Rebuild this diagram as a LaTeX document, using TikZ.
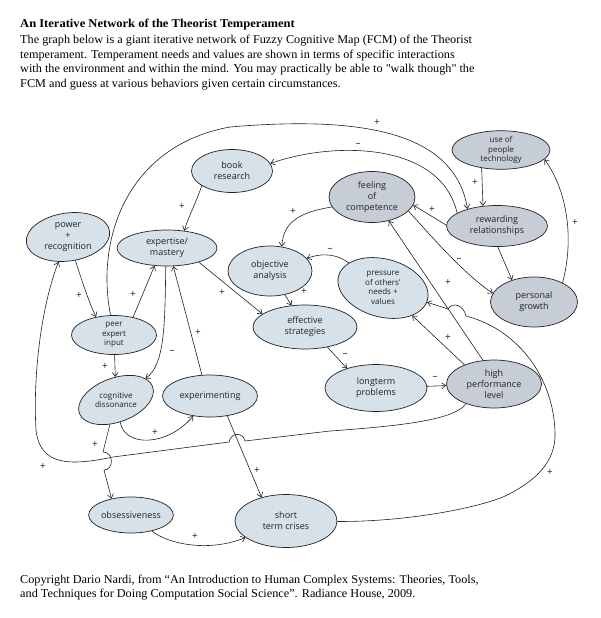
\documentclass[tikz,border=0pt]{standalone}
\usepackage{fontspec}
\setmainfont[FakeStretch=1.02]{Liberation Serif}
\newfontfamily\ttlfont[FakeStretch=1.045]{Liberation Serif}
\newfontfamily\hand{Open Sans}
\usetikzlibrary{shapes.geometric,arrows.meta}
\definecolor{nodeblue}{HTML}{D6E1E9}
\definecolor{nodegrey}{HTML}{C6CDD6}
\definecolor{ink}{HTML}{222222}
\begin{document}
\begin{tikzpicture}[x=1pt,y=-1pt,
  fcm/.style={ellipse, draw=ink, line width=0.7pt, fill=nodeblue, inner sep=0pt,
    align=center, text=ink, font=\hand\fontsize{9}{10.8}\selectfont},
  fcmtext/.style={inner sep=0pt, align=center, text=ink, font=\hand\fontsize{9}{10.8}\selectfont},
  greyfill/.style={fill=nodegrey},
  smalltext/.style={font=\hand\fontsize{8}{9.6}\selectfont},
  arr/.style={-{Straight Barb[length=4pt,width=6pt]}, line width=0.6pt, draw=ink},
  sgn/.style={inner sep=0pt, text=ink, font=\hand\fontsize{10}{10}\selectfont},
  txt/.style={anchor=base west, inner sep=0pt, font=\fontsize{12}{14}\selectfont},
  ttl/.style={anchor=base west, inner sep=0pt, font=\ttlfont\bfseries\fontsize{12}{14}\selectfont}]
\useasboundingbox (0,0) rectangle (600,618);
\fill[white] (0,0) rectangle (600,618);

% header text
\node[ttl] (title) at (20,28) {An Iterative Network of the Theorist Temperament};
\node[txt] (t1) at (20,44) {The graph below is a giant iterative network of Fuzzy Cognitive Map (FCM) of the Theorist};
\node[txt] (t2) at (20,58.5) {temperament. Temperament needs and values are shown in terms of specific interactions};
\node[txt] (t3) at (20,73) {with the environment and within the mind. You may practically be able to \textquotedbl walk though\textquotedbl{} the};
\node[txt] (t4) at (20,87.5) {FCM and guess at various behaviors given certain circumstances.};

% footer text
\node[txt] (f1) at (20,583) {Copyright Dario Nardi, from “An Introduction to Human Complex Systems: Theories, Tools,};
\node[txt] (f2) at (20,597) {and Techniques for Doing Computation Social Science”. Radiance House, 2009.};

% concept nodes
\node[fcm, minimum width=84pt, minimum height=48pt, rotate=8] (pow) at (68,237) {};
\node[fcmtext] (powt) at (pow.center) {power\\+\\recognition};
\node[fcm, minimum width=81pt, minimum height=43pt] (book) at (232,171) {book\\research};
\node[fcm, minimum width=100pt, minimum height=36pt] (exp) at (167,248) {expertise/\\mastery};
\node[fcm, minimum width=84pt, minimum height=50pt] (obj) at (270,271) {objective\\analysis};
\node[fcm, minimum width=104pt, minimum height=44pt] (eff) at (305,327) {effective\\strategies};
\node[fcm, greyfill, minimum width=86pt, minimum height=51pt] (feel) at (372,197) {feeling\\of\\competence};
\node[fcm, greyfill, smalltext, minimum width=98pt, minimum height=38pt] (use) at (501,150) {use of\\people\\technology};
\node[fcm, greyfill, minimum width=101pt, minimum height=41pt] (rew) at (497,226) {rewarding\\relationships};
\node[fcm, greyfill, minimum width=87pt, minimum height=50pt] (pg) at (534,302) {personal\\growth};
\node[fcm, minimum width=92pt, minimum height=58pt, rotate=-15] (press) at (383,288) {};
\node[fcmtext, smalltext] (presst) at (press.center) {pressure\\of others'\\needs +\\values};
\node[fcm, greyfill, minimum width=95pt, minimum height=48pt] (hp) at (494,384) {high\\performance\\level};
\node[fcm, minimum width=102pt, minimum height=47pt] (lt) at (376,388) {longterm\\problems};
\node[fcm, smalltext, minimum width=85pt, minimum height=39pt] (peer) at (114,335) {peer\\expert\\input};
\node[fcm, minimum width=78pt, minimum height=44pt, rotate=20] (cog) at (116,400) {};
\node[fcmtext, smalltext] (cogt) at (cog.center) {cognitive\\dissonance};
\node[fcm, minimum width=95pt, minimum height=42pt] (expm) at (210,396) {experimenting};
\node[fcm, minimum width=82pt, minimum height=36pt] (obs) at (131,515) {obsessiveness};
\node[fcm, minimum width=102pt, minimum height=53pt] (stc) at (286,521) {short\\term crises};

% connectors
\draw[arr] (book.206) .. controls (195,205) and (188,218) .. (exp.45);
\draw[arr] (peer.100) .. controls (95,235) and (130,145) .. (230,127) .. controls (370,115) and (455,135) .. (rew.150);
\draw[arr] (rew.162) .. controls (440,140) and (330,142) .. (book.11);
\draw[arr] (feel.194) .. controls (300,212) and (283,222) .. (obj.64);
\draw[arr] (use.223) -- (rew.125);
\draw[arr] (rew.179) -- (feel.-11);
\draw[arr] (rew.272) -- (pg.135);
\draw[arr] (pg.34) .. controls (574,240) and (568,192) .. (use.-12);
\draw[arr] (feel.-21) .. controls (430,235) and (465,275) .. (pg.168);
\draw[arr] (hp.115) -- (feel.-55);
\draw[arr] (hp.147) -- (press);
\draw[arr] (lt) -- (hp);
\draw[arr] (eff.-42) -- (lt.146);
\draw[arr] (obj) -- (eff);
\draw[arr] (press) .. controls (338,255) and (325,252) .. (obj);
\draw[arr] (exp.-24) -- (eff.163);
\draw[arr] (peer.43) -- (exp.235);
\draw[arr] (expm.111) -- (exp.-71);
\draw[arr] (exp.266) .. controls (165,330) and (164,365) .. (cog);
\draw[arr] (pow) .. controls (80,275) and (88,300) .. (peer.135);
\draw[arr] (peer) -- (cog);
\draw[arr] (cog) .. controls (125,448) and (168,446) .. (expm);
\draw[arr] (cog) -- (103,452) .. controls (114,452) and (114,470) .. (104,470) -- (obs.140);
\draw[arr] (expm.-49) -- (stc.136);
\draw[arr] (obs) .. controls (170,545) and (210,552) .. (stc);
\draw[arr] (stc) .. controls (400,522) and (470,510) .. (503,497)
  .. controls (535,482) and (556,462) .. (555,433)
  .. controls (554,380) and (520,330) .. (466,316)
  .. controls (463,304) and (452,302) .. (448,309) -- (press);
\draw[arr] (hp.215) .. controls (455,420) and (400,426) .. (330,431) -- (245,441)
  .. controls (243,432) and (231,432) .. (229,442) -- (113,457)
  .. controls (70,466) and (40,466) .. (36,430)
  .. controls (33,380) and (40,310) .. (pow);

% signs
\node[sgn] (s1) at (182,207) {+};
\node[sgn] (s2) at (377,123) {+};
\node[sgn] (s3) at (358,145) {–};
\node[sgn] (s4) at (293,212) {+};
\node[sgn] (s5) at (475,183) {+};
\node[sgn] (s6) at (432,210) {+};
\node[sgn] (s7) at (459,260) {–};
\node[sgn] (s8) at (575,223) {+};
\node[sgn] (s9) at (79,296) {+};
\node[sgn] (s10) at (133,295) {+};
\node[sgn] (s11) at (222,293) {+};
\node[sgn] (s12) at (304,292) {+};
\node[sgn] (s13) at (330,250) {–};
\node[sgn] (s14) at (198,333) {+};
\node[sgn] (s15) at (172,352) {–};
\node[sgn] (s16) at (448,283) {+};
\node[sgn] (s17) at (448,338) {+};
\node[sgn] (s18) at (345,355) {–};
\node[sgn] (s19) at (435,378) {–};
\node[sgn] (s20) at (105,367) {+};
\node[sgn] (s21) at (155,433) {+};
\node[sgn] (s22) at (95,445) {+};
\node[sgn] (s23) at (43,467) {+};
\node[sgn] (s24) at (257,471) {+};
\node[sgn] (s25) at (195,537) {+};
\node[sgn] (s26) at (550,473) {+};
\end{tikzpicture}
\end{document}
